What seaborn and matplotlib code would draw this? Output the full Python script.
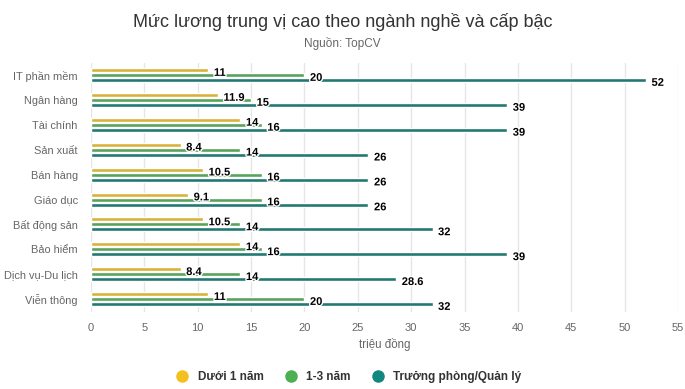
import pandas as pd
import matplotlib.pyplot as plt
import matplotlib.patheffects as pe
from matplotlib.lines import Line2D
import seaborn as sns

nganh = ['IT phần mềm', 'Ngân hàng', 'Tài chính', 'Sản xuất', 'Bán hàng',
         'Giáo dục', 'Bất động sản', 'Bảo hiểm', 'Dịch vụ-Du lịch', 'Viễn thông']
duoi_1_nam = [11, 11.9, 14, 8.4, 10.5, 9.1, 10.5, 14, 8.4, 11]
mot_ba_nam = [20, 15, 16, 14, 16, 16, 14, 16, 14, 20]
truong_phong = [52, 39, 39, 26, 26, 26, 32, 39, 28.6, 32]
cap_bac = ['Dưới 1 năm', '1-3 năm', 'Trưởng phòng/Quản lý']
mau = ['#f4c01e', '#4caf50', '#12877f']
x_ticks = list(range(0, 56, 5))

# Chuyển sang dạng dài cho seaborn
df = pd.DataFrame({'Ngành': nganh, cap_bac[0]: duoi_1_nam,
                   cap_bac[1]: mot_ba_nam, cap_bac[2]: truong_phong})
df_long = df.melt(id_vars='Ngành', var_name='Cấp bậc', value_name='Lương')

sns.set_style('white')
plt.rcParams['font.family'] = ['Liberation Sans', 'DejaVu Sans']

fig = plt.figure(figsize=(6.85, 3.89), dpi=100)
ax = fig.add_axes([0.1328, 0.199, 0.857, 0.640])

sns.barplot(data=df_long, y='Ngành', x='Lương', hue='Cấp bậc', order=nganh,
            hue_order=cap_bac, palette=mau, orient='h', width=0.6, gap=0.2,
            errorbar=None, legend=False, ax=ax, zorder=3)

# Nhãn dữ liệu
for cont in ax.containers:
    labels = [('%g' % b.get_width()) for b in cont]
    txts = ax.bar_label(cont, labels=labels, padding=4, fontsize=8,
                        fontweight='bold', color='black')
    for t in txts:
        t.xyann = (4, -2)
        t.set_path_effects([pe.withStroke(linewidth=2, foreground='white')])

ax.set_xlim(0, 55)
ax.set_xticks(x_ticks)
ax.grid(axis='x', color='#e6e6e6', linewidth=1, zorder=0)
for s in ax.spines.values():
    s.set_visible(False)
ax.tick_params(axis='x', length=0, labelsize=8, labelcolor='#666666', pad=8)
ax.tick_params(axis='y', length=0, labelsize=7.9, labelcolor='#666666', pad=9.5)
ax.set_ylabel('')
ax.set_xlabel('triệu đồng', fontsize=8.3, color='#666666', labelpad=4)

fig.text(0.5, 0.944, 'Mức lương trung vị cao theo ngành nghề và cấp bậc',
         ha='center', va='center', fontsize=13, color='#333333')
fig.text(0.5, 0.889, 'Nguồn: TopCV', ha='center', va='center', fontsize=8.5,
         color='#666666')

handles = [Line2D([0], [0], marker='o', linestyle='', markersize=8,
                  markerfacecolor=c, markeredgecolor=c) for c in mau]
fig.legend(handles, cap_bac, loc='center', bbox_to_anchor=(0.505, 0.03),
           ncol=3, frameon=False, handletextpad=0.3, columnspacing=1.3,
           prop={'size': 8.5, 'weight': 'bold'}, labelcolor='#333333')

fig.savefig('out.png', dpi=100, facecolor='white')
